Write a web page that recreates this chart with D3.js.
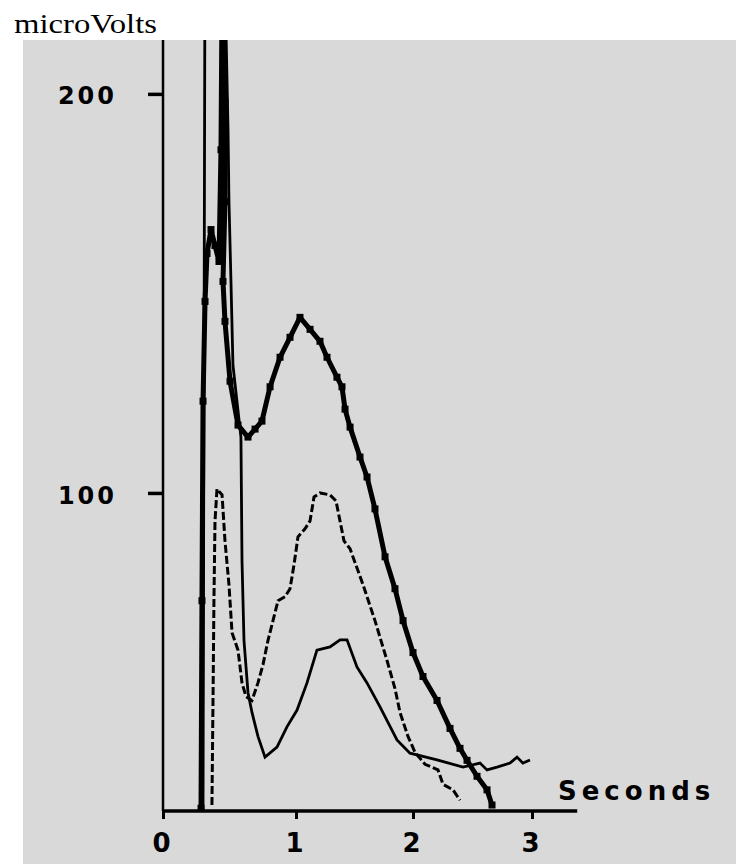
<!DOCTYPE html>
<html>
<head>
<meta charset="utf-8">
<script src="https://cdn.jsdelivr.net/npm/d3@7"></script>
<style>
  body { margin: 0; background: #fff; }
  .tick text { font-family: "DejaVu Sans", sans-serif; font-weight: bold; fill: #000; }
</style>
</head>
<body>
<div class="chart"></div>
<script>
// values (seconds, microVolts)
const thickTime = [0.286, 0.293, 0.301, 0.316, 0.331, 0.361, 0.391, 0.421, 0.436, 0.444, 0.466, 0.466, 0.451, 0.466, 0.504,
  0.564, 0.639, 0.692, 0.744, 0.805, 0.880, 0.955, 1.034, 1.120, 1.205, 1.265, 1.350, 1.393, 1.419, 1.462,
  1.547, 1.607, 1.675, 1.761, 1.846, 1.915, 2.000, 2.084, 2.202, 2.311, 2.395, 2.454, 2.538, 2.622, 2.664];
const thickVolts = [21, 73, 123, 148, 160, 166, 162, 158, 186, 225, 198, 173, 153, 143, 128,
  117, 114, 116, 118, 126.6, 134, 139, 144, 141, 138, 134, 129, 126.6, 121, 116.5,
  109, 104, 96, 84, 76, 68, 60, 54, 48, 41, 36, 33, 29, 25.6, 21.8];

const dashTime = [0.368, 0.376, 0.383, 0.391, 0.406, 0.444, 0.466, 0.496, 0.519, 0.564, 0.594, 0.624, 0.669, 0.714, 0.752,
  0.789, 0.827, 0.865, 0.917, 0.955, 0.985, 1.017, 1.077, 1.120, 1.154, 1.205, 1.291, 1.342, 1.376, 1.410,
  1.462, 1.573, 1.675, 1.778, 1.846, 1.889, 1.957, 2.017, 2.101, 2.210, 2.252, 2.336, 2.395];
const dashVolts = [21.8, 48, 73, 93, 101, 99.5, 88, 77, 65, 60.6, 52.4, 49, 48, 52.4, 57,
  63, 68, 73, 74, 76, 82, 89, 91, 93, 99, 100, 99.5, 98, 93, 88,
  86, 77, 68, 58, 51, 45, 39, 35, 32, 30.6, 27, 25.6, 23];

const thinTime = [0.301, 0.306, 0.316, 0.474, 0.489, 0.496, 0.511, 0.526, 0.556, 0.586, 0.594, 0.609, 0.639, 0.669, 0.714,
  0.767, 0.857, 0.932, 1.009, 1.094, 1.179, 1.291, 1.376, 1.436, 1.521, 1.607, 1.718, 1.863, 1.974, 2.202,
  2.420, 2.563, 2.622, 2.706, 2.815, 2.874, 2.924, 2.983];
const thinVolts = [20.5, 98, 240, 215, 191, 173, 153, 132, 123, 114, 83, 63, 50, 45, 39,
  33.8, 36.3, 41.4, 45.6, 52.4, 60.6, 61.4, 63.2, 63.2, 56.4, 52.4, 46.4, 38.1, 34.8, 33.1,
  31.3, 32.3, 30.6, 31.3, 32.3, 33.8, 32.3, 33.1];

const xTicks = [0, 1, 2, 3];
const yTicks = [100, 200];

const width = 736;
const height = 864;
const panel = {left: 23, top: 40};

const svg = d3.select('.chart').append('svg')
    .attr('width', width)
    .attr('height', height)
    .style('display', 'block');

svg.append('rect')
    .attr('x', panel.left)
    .attr('y', panel.top)
    .attr('width', width - panel.left)
    .attr('height', height - panel.top)
    .attr('fill', '#d9d9d9');

svg.append('text')
    .attr('x', 14)
    .attr('y', 33)
    .attr('font-family', '"Liberation Serif", "Times New Roman", serif')
    .attr('font-size', 28)
    .attr('textLength', 143)
    .attr('lengthAdjust', 'spacingAndGlyphs')
    .text('microVolts');

// the time axis is hand drawn, ticks not evenly spaced
const xScale = d3.scaleLinear()
    .domain([0, 1, 2, 3])
    .range([163, 296, 413, 532]);

const yScale = d3.scaleLinear()
    .domain([20.3, 213.5])
    .range([811, 40]);

const xAxis = d3.axisBottom(xScale)
    .tickValues(xTicks)
    .tickSize(8)
    .tickPadding(15)
    .tickFormat(d3.format('d'));

const yAxis = d3.axisLeft(yScale)
    .tickValues(yTicks)
    .tickSize(15)
    .tickPadding(31)
    .tickFormat(d3.format('d'));

svg.append('defs').append('clipPath')
    .attr('id', 'plot-clip')
  .append('rect')
    .attr('x', panel.left)
    .attr('y', panel.top)
    .attr('width', width - panel.left)
    .attr('height', height - panel.top);

const plot = svg.append('g').attr('clip-path', 'url(#plot-clip)');

const line = d3.line()
    .x(d => xScale(d[0]))
    .y(d => yScale(d[1]));

const thick = d3.zip(thickTime, thickVolts);
const dashed = d3.zip(dashTime, dashVolts);
const thin = d3.zip(thinTime, thinVolts);

plot.append('path')
    .datum(thin)
    .attr('d', line)
    .attr('fill', 'none')
    .attr('stroke', '#000')
    .attr('stroke-width', 2.8);

plot.append('path')
    .datum(dashed)
    .attr('d', line)
    .attr('fill', 'none')
    .attr('stroke', '#000')
    .attr('stroke-width', 3)
    .attr('stroke-dasharray', '8,3');

plot.append('path')
    .datum(thick)
    .attr('d', line)
    .attr('fill', 'none')
    .attr('stroke', '#000')
    .attr('stroke-width', 5)
    .attr('stroke-linejoin', 'round');

plot.selectAll('.beads')
    .data(thick)
    .enter()
    .append('rect')
    .attr('class', 'beads')
    .attr('x', d => xScale(d[0]) - 3.5)
    .attr('y', d => yScale(d[1]) - 3.5)
    .attr('width', 7)
    .attr('height', 7)
    .attr('fill', '#000');

// axes
const gx = svg.append('g')
    .attr('class', 'axis x-axis')
    .attr('transform', `translate(0, ${yScale(20.3)})`)
    .call(xAxis);
gx.select('.domain').remove();
gx.selectAll('.tick line').attr('stroke', '#000').attr('stroke-width', 3);
gx.selectAll('.tick text').attr('font-size', 26).attr('dx', -2);

gx.append('line')
    .attr('x1', xScale(0))
    .attr('x2', xScale(3.38))
    .attr('stroke', '#000')
    .attr('stroke-width', 3.5);

const gy = svg.append('g')
    .attr('class', 'axis y-axis')
    .attr('transform', `translate(${xScale(0)}, 0)`)
    .call(yAxis);
gy.select('.domain').remove();
gy.selectAll('.tick line').attr('stroke', '#000').attr('stroke-width', 3.5);
gy.selectAll('.tick text')
    .attr('font-size', 24)
    .attr('letter-spacing', 3)
    .attr('dy', '0.42em');

gy.append('line')
    .attr('y1', yScale(20.3))
    .attr('y2', yScale(213.5))
    .attr('stroke', '#000')
    .attr('stroke-width', 2.5);

svg.append('text')
    .attr('x', 558)
    .attr('y', 800)
    .attr('font-family', '"DejaVu Sans", sans-serif')
    .attr('font-weight', 'bold')
    .attr('font-size', 26)
    .attr('letter-spacing', 5)
    .text('Seconds');
</script>
</body>
</html>
